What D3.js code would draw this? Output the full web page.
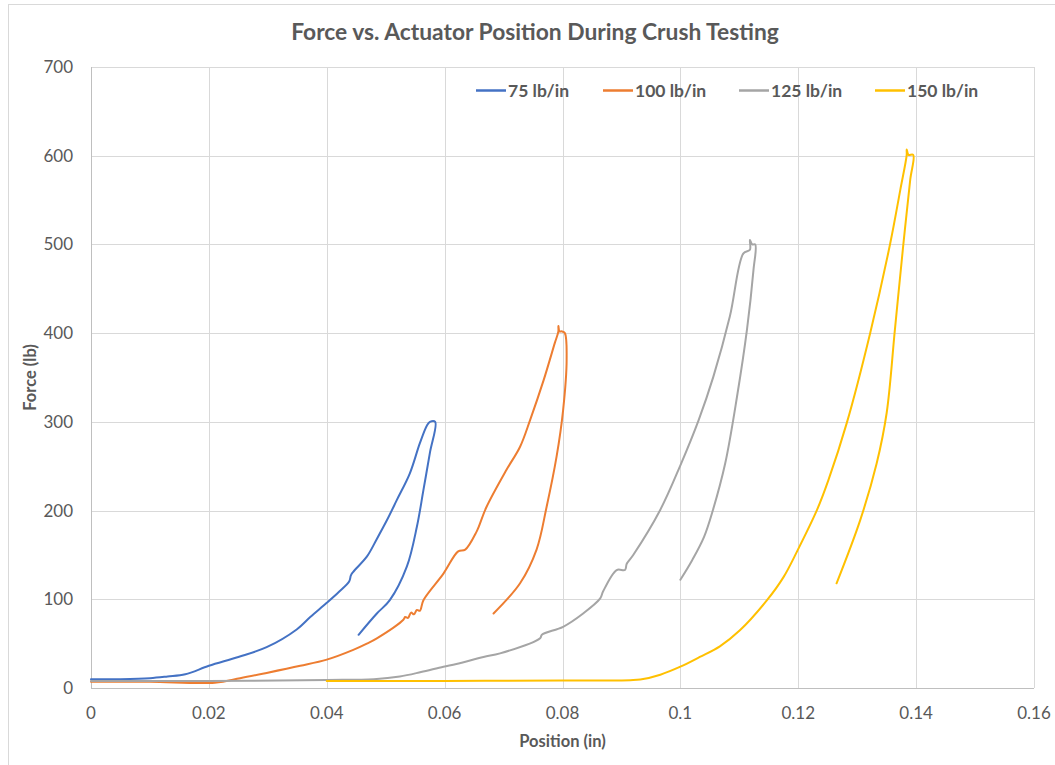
<!DOCTYPE html>
<html lang="en">
<head>
<meta charset="utf-8">
<title>Force vs. Actuator Position</title>
<script src="https://d3js.org/d3.v7.min.js"></script>
<style>
  body { margin: 0; background: #fff; }
  text { font-family: Lato, "Open Sans", sans-serif; fill: #595959; }
  .grid line { stroke: #d9d9d9; stroke-width: 1px; }
  .tick-label { font-size: 17px; }
  .axis-title { font-size: 16.5px; font-weight: bold; }
  .legend text { font-size: 17.5px; font-weight: bold; }
</style>
</head>
<body>
<script>
// series names and colours
var seriesNames = ["75 lb/in", "100 lb/in", "125 lb/in", "150 lb/in"];
var seriesColors = ["#4472C4", "#ED7D31", "#A5A5A5", "#FFC000"];

// [position (in), force (lb)]
var s75 = [[0,10],[0.005,10],[0.01,11],[0.013,13],[0.016,15.5],[0.02,25],[0.025,35],[0.0298,46],
  [0.0349,66],[0.0372,80],[0.04,96],[0.042,108],[0.0438,120],[0.0441,127],[0.0445,131],[0.0468,148],
  [0.0485,168],[0.0502,189],[0.0519,212],[0.0541,242],[0.0558,276],[0.057,296],[0.0575,300],[0.0584,300],
  [0.0575,265],[0.0564,223],[0.0553,182],[0.0536,137],[0.0507,99],[0.0485,84],[0.0454,60]];

var s100 = [[0,7],[0.01,7],[0.021,6],[0.0253,11],[0.0298,17],[0.0355,25],[0.04,32],[0.0445,43],
  [0.0468,50],[0.0485,56],[0.053,77],[0.0533,80],[0.0538,79],[0.0543,85],[0.0548,83],[0.0553,88],
  [0.0558,87],[0.0564,99],[0.0598,129],[0.0623,154],[0.0635,156],[0.0654,176],[0.0658,182],[0.0671,204],
  [0.0705,246],[0.0728,272],[0.0745,302],[0.0768,347],[0.0787,389],[0.0793,402],[0.0793,408],[0.0795,402],
  [0.0799,402],[0.0804,400],[0.0807,370],[0.0801,313],[0.079,261],[0.0773,204],[0.0756,156],
  [0.0728,118],[0.0683,84]];

var s125 = [[0,8],[0.02,8],[0.04,9],[0.048,10],[0.0524,13],[0.056,18],[0.0598,24],[0.062,27],
  [0.0666,35],[0.0694,39],[0.0762,56],[0.0765,60],[0.0801,69],[0.0835,84],[0.0864,101],[0.0869,109],
  [0.0892,133],[0.0906,133],[0.0909,140],[0.092,150],[0.0966,201],[0.1,251],[0.1031,302],[0.1056,351],
  [0.1084,419],[0.1107,490],[0.1118,494],[0.1118,505],[0.1122,500],[0.1127,500],[0.1124,471],
  [0.1113,404],[0.1096,328],[0.1076,253],[0.1055,200],[0.104,170],[0.102,144],[0.1,122]];

var s150 = [[0.04,8],[0.06,8],[0.08,8.5],[0.0915,8.8],[0.0932,9.5],[0.0966,15],[0.1,24],[0.1033,35],
  [0.1067,47],[0.1101,65],[0.1147,99],[0.1175,125],[0.1198,154],[0.1232,201],[0.1251,234],[0.1282,298],
  [0.1322,400],[0.1356,501],[0.1373,561],[0.1384,601],[0.1384,607],[0.1387,601],[0.1395,601],
  [0.139,573],[0.1378,498],[0.1364,404],[0.135,310],[0.1333,253],[0.1305,189],[0.1265,118]];

var seriesData = [s75, s100, s125, s150];

var xTicks = [0, 0.02, 0.04, 0.06, 0.08, 0.1, 0.12, 0.14, 0.16];
var yTicks = [0, 100, 200, 300, 400, 500, 600, 700];

var W = 1055, H = 765;
var plot = {left: 91, right: 1034, top: 67, bottom: 688};

var svg = d3.select("body").append("svg").attr("width", W).attr("height", H);

// chart frame
svg.append("rect").attr("x", 8.5).attr("y", 4.5).attr("width", 1060).attr("height", 780)
  .attr("fill", "none").attr("stroke", "#d9d9d9");

var x = d3.scaleLinear().domain([0, 0.16]).range([plot.left, plot.right]);
var y = d3.scaleLinear().domain([0, 700]).range([plot.bottom, plot.top]);

// gridlines
var grid = svg.append("g").attr("class", "grid");
grid.selectAll(".gx").data(xTicks.slice(1)).enter().append("line")
  .attr("x1", d => Math.round(x(d)) + 0.5).attr("x2", d => Math.round(x(d)) + 0.5)
  .attr("y1", plot.top).attr("y2", plot.bottom);
grid.selectAll(".gy").data(yTicks.slice(1)).enter().append("line")
  .attr("x1", plot.left).attr("x2", plot.right)
  .attr("y1", d => Math.round(y(d)) + 0.5).attr("y2", d => Math.round(y(d)) + 0.5);

// axis lines
svg.append("line").attr("x1", plot.left).attr("x2", plot.right)
  .attr("y1", plot.bottom + 0.5).attr("y2", plot.bottom + 0.5).attr("stroke", "#bfbfbf");
svg.append("line").attr("x1", plot.left + 0.5).attr("x2", plot.left + 0.5)
  .attr("y1", plot.top).attr("y2", plot.bottom).attr("stroke", "#bfbfbf");

// tick labels
svg.selectAll(".xl").data(xTicks).enter().append("text").attr("class", "tick-label")
  .attr("x", d => x(d)).attr("y", 719).attr("text-anchor", "middle")
  .text(d => d3.format("")(d));
svg.selectAll(".yl").data(yTicks).enter().append("text").attr("class", "tick-label")
  .attr("x", 73).attr("y", d => y(d) + 6).attr("text-anchor", "end")
  .text(d => d);

// titles
svg.append("text").attr("x", 535).attr("y", 40).attr("text-anchor", "middle")
  .style("font-size", "22.8px").style("font-weight", "bold").text("Force vs. Actuator Position During Crush Testing");
svg.append("text").attr("class", "axis-title").attr("x", (plot.left + plot.right) / 2).attr("y", 747)
  .attr("text-anchor", "middle").text("Position (in)");
svg.append("text").attr("class", "axis-title")
  .attr("transform", "translate(36," + ((plot.top + plot.bottom) / 2) + ") rotate(-90)")
  .attr("text-anchor", "middle").text("Force (lb)");

// series
var line = d3.line().x(d => x(d[0])).y(d => y(d[1])).curve(d3.curveCatmullRom.alpha(0.5));
svg.append("g").selectAll("path").data(seriesData).enter().append("path")
  .attr("d", line).attr("fill", "none")
  .attr("stroke", (d, i) => seriesColors[i]).attr("stroke-width", 2)
  .attr("stroke-linejoin", "round").attr("stroke-linecap", "round");

// legend
var legendX = [476, 603, 739, 875];
var legend = svg.append("g").attr("class", "legend");
seriesNames.forEach(function (name, i) {
  legend.append("line").attr("x1", legendX[i]).attr("x2", legendX[i] + 30)
    .attr("y1", 90.5).attr("y2", 90.5).attr("stroke", seriesColors[i]).attr("stroke-width", 2.5);
  legend.append("text").attr("x", legendX[i] + 32).attr("y", 96.5).text(name);
});
</script>
</body>
</html>
